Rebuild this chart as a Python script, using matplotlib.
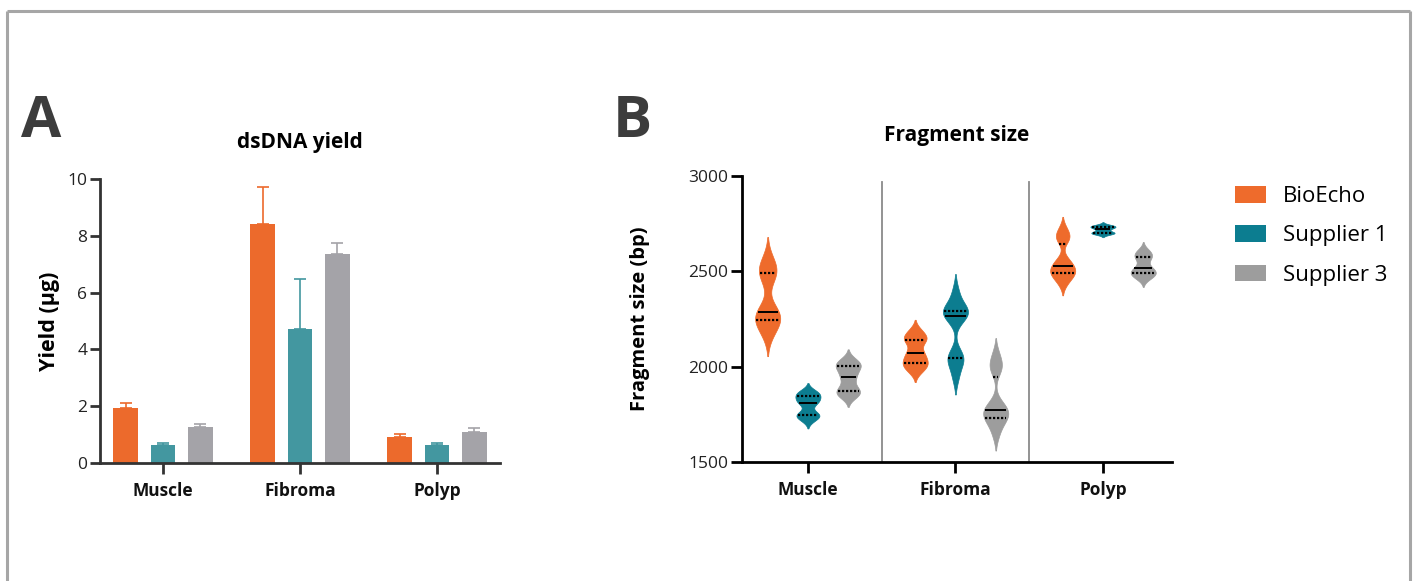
import numpy as np
import matplotlib
matplotlib.use("Agg")
import matplotlib.pyplot as plt
from matplotlib.patches import Patch
from matplotlib.lines import Line2D

plt.rcParams['font.family'] = ['Open Sans', 'DejaVu Sans']

# ---- data ----
tissues = ['Muscle', 'Fibroma', 'Polyp']
suppliers = ['BioEcho', 'Supplier 1', 'Supplier 3']

# panel A: dsDNA yield (ug), mean and upper error
yield_bioecho = [1.94, 8.41, 0.93]
yield_sup1 = [0.63, 4.71, 0.63]
yield_sup3 = [1.26, 7.37, 1.08]
err_bioecho = [0.18, 1.32, 0.09]
err_sup1 = [0.06, 1.78, 0.07]
err_sup3 = [0.11, 0.37, 0.15]

# panel B: fragment sizes (bp), one list per tissue
size_bioecho = [
    [2175, 2225, 2240, 2268, 2276, 2296, 2470, 2497, 2510, 2560],
    [1975, 2005, 2012, 2036, 2058, 2082, 2130, 2146, 2160, 2190],
    [2440, 2480, 2486, 2498, 2520, 2536, 2560, 2669, 2680, 2720],
]
size_sup1 = [
    [1720, 1742, 1745, 1755, 1805, 1817, 1830, 1850, 1858, 1870],
    [1950, 2030, 2043, 2060, 2258, 2278, 2285, 2293, 2310, 2390],
    [2695, 2700, 2701, 2705, 2716, 2726, 2731, 2734, 2738, 2742],
]
size_sup3 = [
    [1845, 1862, 1868, 1892, 1935, 1959, 1990, 2006, 2015, 2035],
    [1650, 1715, 1728, 1748, 1766, 1782, 1800, 1992, 2000, 2060],
    [2462, 2480, 2486, 2498, 2508, 2524, 2560, 2579, 2590, 2610],
]
# kernel bandwidths (bp)
bw_bioecho = [60, 28, 33]
bw_sup1 = [22, 48, 8]
bw_sup3 = [28, 45, 22]

colors_a = ['#EC6A2C', '#4397A0', '#A4A3A8']
colors_b = ['#EE6B2C', '#0C7D90', '#9D9D9D']

fig = plt.figure(figsize=(14.16, 5.81), dpi=100)

# outer frame
for xs, ys in [([7 / 1416, 7 / 1416], [0, 1 - 11 / 581]),
               ([7 / 1416, 1410 / 1416], [1 - 11 / 581, 1 - 11 / 581]),
               ([1410 / 1416, 1410 / 1416], [1 - 11 / 581, 0])]:
    fig.add_artist(Line2D(xs, ys, color='#A6A6A6', lw=2.2, solid_capstyle='butt'))

dots = (0, (1, 0.8))

# ---------- panel A ----------
axA = fig.add_axes([100 / 1416, 1 - 463 / 581, 400 / 1416, 284 / 581])
x = np.arange(len(tissues))
off = 0.273
bw = 0.18
for i, (vals, errs) in enumerate([(yield_bioecho, err_bioecho), (yield_sup1, err_sup1),
                                  (yield_sup3, err_sup3)]):
    pos = x + (i - 1) * off
    axA.bar(pos, vals, width=bw, color=colors_a[i], zorder=2)
    axA.errorbar(pos, vals, yerr=[np.zeros(len(vals)), errs], fmt='none',
                 ecolor=colors_a[i], elinewidth=1.2, capsize=4.5, capthick=1.2, zorder=1)
axA.set_xlim(-0.46, 2.46)
axA.set_ylim(0, 10)
axA.set_yticks([0, 2, 4, 6, 8, 10])
axA.set_xticks(x)
axA.set_xticklabels(tissues, fontsize=12.5, fontweight='bold')
for s in ['top', 'right']:
    axA.spines[s].set_visible(False)
for s in ['left', 'bottom']:
    axA.spines[s].set_linewidth(2.0)
    axA.spines[s].set_color('#333333')
axA.tick_params(axis='y', length=7, width=2.0, color='#333333', labelsize=12.5, labelcolor='#222222', pad=2)
axA.tick_params(axis='x', length=8, width=2.0, color='#333333', labelcolor='#111111', pad=6)
axA.set_ylabel('Yield (µg)', fontsize=15.5, fontweight='bold')
axA.yaxis.set_label_coords(-0.10, 0.5)
axA.set_title('dsDNA yield', fontsize=15, fontweight='bold', pad=22)
fig.text(21 / 1416, 1 - 137 / 581, 'A', fontsize=42, fontweight='bold', color='#3C3C3C')

# ---------- panel B ----------
axB = fig.add_axes([742 / 1416, 1 - 462 / 581, 430 / 1416, 286 / 581])
vw = 0.17
cut = 2.0
for i, (groups, bws) in enumerate([(size_bioecho, bw_bioecho), (size_sup1, bw_sup1),
                                   (size_sup3, bw_sup3)]):
    stats = []
    for data, h in zip(groups, bws):
        d = np.array(data, dtype=float)
        coords = np.linspace(d.min() - cut * h, d.max() + cut * h, 300)
        dens = np.exp(-0.5 * ((coords[:, None] - d[None, :]) / h) ** 2).sum(axis=1)
        stats.append(dict(coords=coords, vals=dens, mean=d.mean(), median=np.median(d),
                          min=d.min(), max=d.max(), data=d))
    pos = x + (i - 1) * off
    parts = axB.violin(stats, positions=pos, widths=vw, showmeans=False,
                       showextrema=False, showmedians=False)
    for body in parts['bodies']:
        body.set_facecolor(colors_b[i])
        body.set_edgecolor(colors_b[i])
        body.set_linewidth(0.5)
        body.set_alpha(1)
        body.set_zorder(2)
    for p, st in zip(pos, stats):
        q1, med, q3 = np.percentile(st['data'], [25, 50, 75])
        for q, ls, lw in [(q1, dots, 1.6), (med, '-', 1.4), (q3, dots, 1.6)]:
            hw = 0.5 * vw * np.interp(q, st['coords'], st['vals']) / st['vals'].max()
            axB.plot([p - hw * 0.9, p + hw * 0.9], [q, q], color='black', lw=lw,
                     linestyle=ls, zorder=3, solid_capstyle='butt')
for sep in [0.5, 1.5]:
    axB.plot([sep, sep], [1500, 2968], color='#8A8A8A', lw=1.3, zorder=1)
axB.set_xlim(-0.447, 2.468)
axB.set_ylim(1500, 3000)
axB.set_yticks([1500, 2000, 2500, 3000])
axB.set_xticks(x)
axB.set_xticklabels(tissues, fontsize=12.5, fontweight='bold')
for s in ['top', 'right']:
    axB.spines[s].set_visible(False)
for s in ['left', 'bottom']:
    axB.spines[s].set_linewidth(2.0)
    axB.spines[s].set_color('black')
axB.tick_params(axis='y', length=8, width=2.0, labelsize=12.5, labelcolor='#222222', pad=2)
axB.tick_params(axis='x', length=8, width=2.0, labelcolor='#111111', pad=6)
axB.set_ylabel('Fragment size (bp)', fontsize=14.5, fontweight='bold')
axB.yaxis.set_label_coords(-0.215, 0.5)
axB.set_title('Fragment size', fontsize=15, fontweight='bold', pad=25)
fig.text(613 / 1416, 1 - 137 / 581, 'B', fontsize=42, fontweight='bold', color='#3C3C3C')

handles = [Patch(facecolor=c, edgecolor='none') for c in colors_b]
fig.legend(handles, suppliers, loc='upper left', bbox_to_anchor=(1235 / 1416, 1 - 186 / 581),
           frameon=False, fontsize=16, handlelength=1.4, handleheight=0.78,
           handletextpad=0.75, labelspacing=0.82, borderpad=0, borderaxespad=0)

fig.savefig('out.png', dpi=100)
